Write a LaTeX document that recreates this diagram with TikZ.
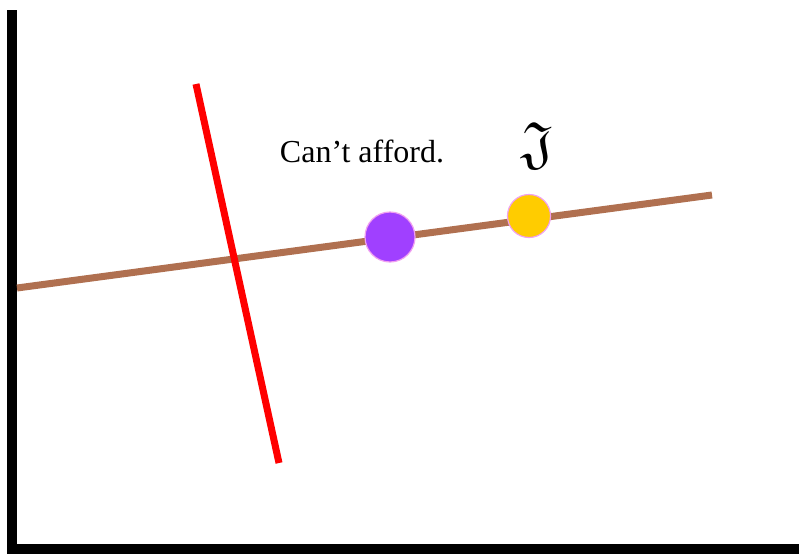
\documentclass[tikz,border=0pt]{standalone}
\usepackage{amssymb}
\usepackage{graphicx}
\usepackage{fontspec}
\setmainfont{Liberation Serif}
\definecolor{brownline}{HTML}{B07050}
\definecolor{purplefill}{HTML}{A040FF}
\definecolor{yellowfill}{HTML}{FFCC00}
\definecolor{pinkedge}{HTML}{F0A0F0}
\tikzset{
  axisline/.style={line width=10pt, black},
  curveline/.style={line width=7pt},
  dot/.style={circle, draw=pinkedge, line width=1.2pt, inner sep=0pt},
}
\begin{document}
\begin{tikzpicture}[x=1pt,y=-1pt]
\useasboundingbox (0,0) rectangle (799,554);
\fill[white] (0,0) rectangle (799,554);
\coordinate (top) at (12,10);
\coordinate (origin) at (12,549);
\coordinate (right) at (799,549);
\draw[axisline] (top) -- (origin) -- (right);
\coordinate (b1) at (17,288);
\coordinate (b2) at (712,195);
\draw[curveline, brownline] (b1) -- (b2);
\coordinate (r1) at (196,84);
\coordinate (r2) at (279,463);
\draw[curveline, red] (r1) -- (r2);
\node[dot, fill=purplefill, minimum size=50pt] (p) at (390,237) {};
\node[dot, fill=yellowfill, minimum size=43pt] (y) at (529,216) {};
\node (t) at (362,151) {\fontsize{32}{38}\selectfont Can’t afford.};
\node[inner sep=0pt] (f) at (538,146) {\resizebox{32pt}{!}{$\mathfrak{J}$}};
\end{tikzpicture}
\end{document}
